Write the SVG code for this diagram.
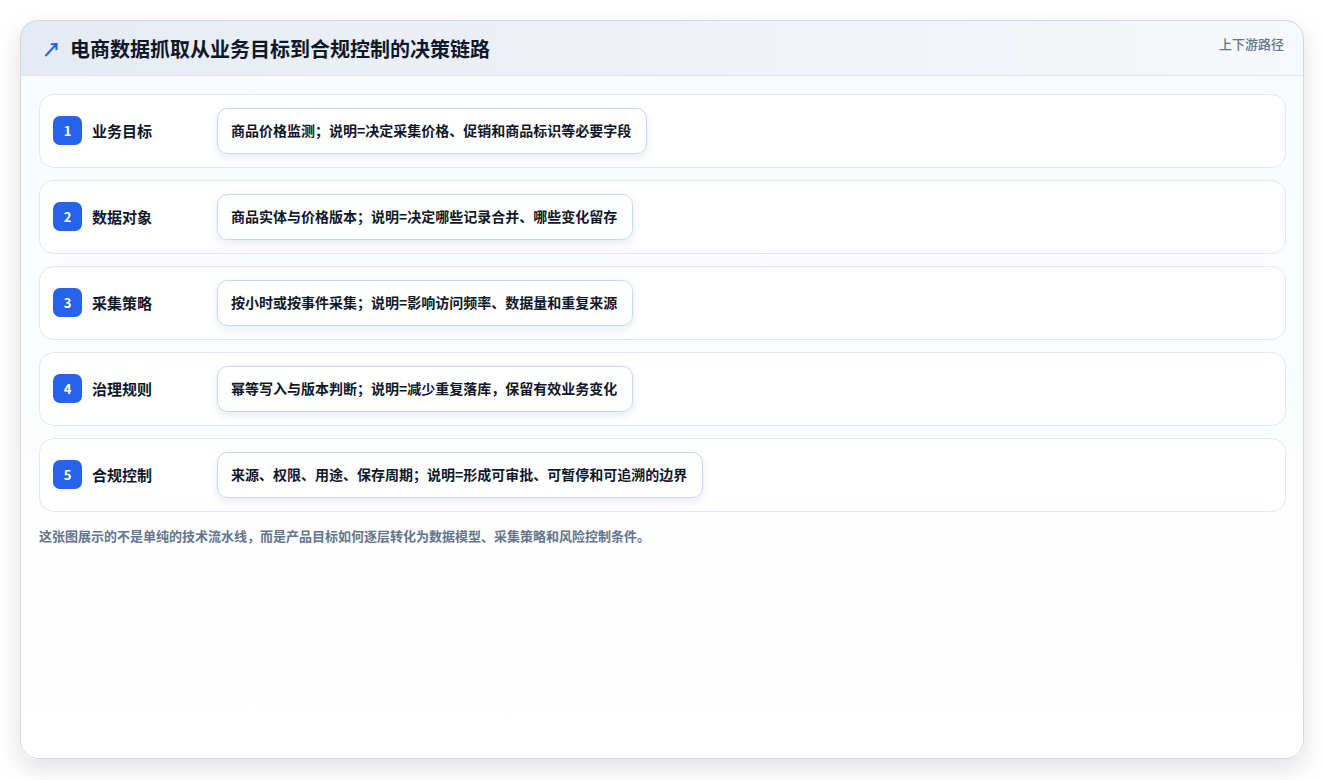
<svg xmlns="http://www.w3.org/2000/svg" width="1325" height="780" viewBox="0 0 1325 780">
<defs>
<filter id="cardShadow" x="-10%" y="-10%" width="120%" height="120%">
<feDropShadow dx="0" dy="10" stdDeviation="12" flood-color="#0f172a" flood-opacity="0.12"/>
</filter>
<filter id="pillShadow" x="-10%" y="-30%" width="120%" height="170%">
<feDropShadow dx="0" dy="3" stdDeviation="4" flood-color="#1e3a8a" flood-opacity="0.10"/>
</filter>
<linearGradient id="hdr" x1="0" y1="0" x2="1" y2="0">
<stop offset="0" stop-color="#e6ebf3"/>
<stop offset="1" stop-color="#f6f8fb"/>
</linearGradient>
<linearGradient id="body" x1="0" y1="0" x2="0" y2="1">
<stop offset="0" stop-color="#f8fafc"/>
<stop offset="1" stop-color="#ffffff"/>
</linearGradient>
<clipPath id="cardClip"><rect x="20" y="20" width="1284" height="739" rx="18"/></clipPath>
</defs>
<style>
text{font-family:"Noto Sans CJK SC","Noto Sans",sans-serif;}
.row{fill:#ffffff;stroke:#e1e8f1;stroke-width:1;}
.badge{fill:#2563eb;}
.num{fill:#ffffff;font-size:13px;font-weight:700;text-anchor:middle;}
.lbl{fill:#0f172a;font-size:15px;font-weight:700;}
.pill{fill:#ffffff;stroke:#c9d7ea;stroke-width:1;}
.ptx{fill:#0f172a;font-size:14px;font-weight:700;}
</style>
<rect width="1325" height="780" fill="#ffffff"/>
<g id="card">
<rect x="20" y="20" width="1284" height="739" rx="18" fill="url(#body)" filter="url(#cardShadow)"/>
<g clip-path="url(#cardClip)">
<rect x="20" y="20" width="1284" height="55" fill="url(#hdr)"/>
<line x1="20" y1="75.5" x2="1304" y2="75.5" stroke="#dce4ee" stroke-width="1"/>
</g>
<rect x="20.5" y="20.5" width="1283" height="738" rx="18" fill="none" stroke="#d3d8df" stroke-width="1"/>
<text x="42" y="57" font-size="19" font-weight="700" fill="#2563eb">↗</text>
<text x="70" y="57" font-size="20" font-weight="700" fill="#0f172a">电商数据抓取从业务目标到合规控制的决策链路</text>
<text x="1284" y="49" font-size="13" font-weight="500" fill="#64748b" text-anchor="end">上下游路径</text>
</g>
<g id="node1">
<rect class="row" x="39.5" y="94.5" width="1246" height="73" rx="14"/>
<rect class="badge" x="53" y="116" width="29" height="29" rx="7"/>
<text class="num" x="67.5" y="135.5">1</text>
<text class="lbl" x="92" y="136.5">业务目标</text>
<rect class="pill" x="217.5" y="108.5" width="429" height="45" rx="10" filter="url(#pillShadow)"/>
<text class="ptx" x="231" y="135.5">商品价格监测；说明=决定采集价格、促销和商品标识等必要字段</text>
</g>
<g id="node2">
<rect class="row" x="39.5" y="180.5" width="1246" height="73" rx="14"/>
<rect class="badge" x="53" y="202" width="29" height="29" rx="7"/>
<text class="num" x="67.5" y="221.5">2</text>
<text class="lbl" x="92" y="222.5">数据对象</text>
<rect class="pill" x="217.5" y="194.5" width="415" height="45" rx="10" filter="url(#pillShadow)"/>
<text class="ptx" x="231" y="221.5">商品实体与价格版本；说明=决定哪些记录合并、哪些变化留存</text>
</g>
<g id="node3">
<rect class="row" x="39.5" y="266.5" width="1246" height="73" rx="14"/>
<rect class="badge" x="53" y="288" width="29" height="29" rx="7"/>
<text class="num" x="67.5" y="307.5">3</text>
<text class="lbl" x="92" y="308.5">采集策略</text>
<rect class="pill" x="217.5" y="280.5" width="415" height="45" rx="10" filter="url(#pillShadow)"/>
<text class="ptx" x="231" y="307.5">按小时或按事件采集；说明=影响访问频率、数据量和重复来源</text>
</g>
<g id="node4">
<rect class="row" x="39.5" y="352.5" width="1246" height="73" rx="14"/>
<rect class="badge" x="53" y="374" width="29" height="29" rx="7"/>
<text class="num" x="67.5" y="393.5">4</text>
<text class="lbl" x="92" y="394.5">治理规则</text>
<rect class="pill" x="217.5" y="366.5" width="415" height="45" rx="10" filter="url(#pillShadow)"/>
<text class="ptx" x="231" y="393.5">幂等写入与版本判断；说明=减少重复落库，保留有效业务变化</text>
</g>
<g id="node5">
<rect class="row" x="39.5" y="438.5" width="1246" height="73" rx="14"/>
<rect class="badge" x="53" y="460" width="29" height="29" rx="7"/>
<text class="num" x="67.5" y="479.5">5</text>
<text class="lbl" x="92" y="480.5">合规控制</text>
<rect class="pill" x="217.5" y="452.5" width="485" height="45" rx="10" filter="url(#pillShadow)"/>
<text class="ptx" x="231" y="479.5">来源、权限、用途、保存周期；说明=形成可审批、可暂停和可追溯的边界</text>
</g>
<g id="connectors"></g>
<text x="39" y="541" font-size="13" font-weight="700" fill="#64748b">这张图展示的不是单纯的技术流水线，而是产品目标如何逐层转化为数据模型、采集策略和风险控制条件。</text>
</svg>
